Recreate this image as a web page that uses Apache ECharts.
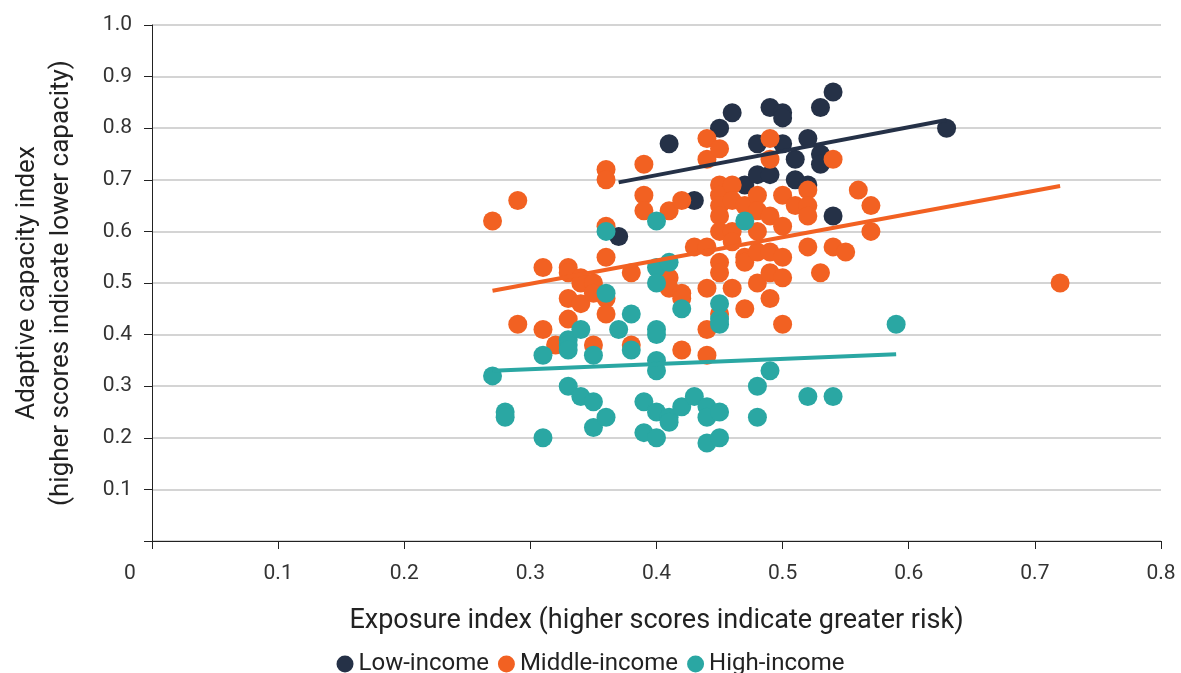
<!DOCTYPE html>
<html>
<head>
<meta charset="utf-8">
<script src="https://cdn.jsdelivr.net/npm/echarts@6/dist/echarts.min.js"></script>
<style>
  html, body { margin: 0; padding: 0; background: #fff; }
  #chart { width: 1181px; height: 673px; }
</style>
</head>
<body>
<div id="chart"></div>
<script>
var seriesNames = ['Low-income', 'Middle-income', 'High-income'];
var colors = ['#253147', '#f26122', '#2aa7a3'];

// [exposure, adaptive capacity]
var lowIncome = [
  [0.37, 0.59], [0.41, 0.77], [0.43, 0.66], [0.45, 0.80], [0.46, 0.83],
  [0.47, 0.69], [0.48, 0.77], [0.48, 0.71], [0.49, 0.84], [0.49, 0.71],
  [0.50, 0.83], [0.50, 0.82], [0.50, 0.77], [0.51, 0.74], [0.51, 0.70],
  [0.52, 0.78], [0.52, 0.69], [0.53, 0.84], [0.53, 0.75], [0.53, 0.73],
  [0.54, 0.87], [0.54, 0.63], [0.63, 0.80]
];
var middleIncome = [
  [0.27, 0.62], [0.29, 0.66], [0.29, 0.42], [0.31, 0.53], [0.31, 0.41],
  [0.32, 0.38], [0.33, 0.53], [0.33, 0.52], [0.33, 0.47], [0.33, 0.43],
  [0.34, 0.51], [0.34, 0.50], [0.34, 0.46], [0.35, 0.50], [0.35, 0.48],
  [0.35, 0.38], [0.36, 0.72], [0.36, 0.70], [0.36, 0.61], [0.36, 0.55],
  [0.36, 0.47], [0.36, 0.44], [0.38, 0.52], [0.38, 0.38], [0.39, 0.73],
  [0.39, 0.67], [0.39, 0.64], [0.41, 0.64], [0.41, 0.51], [0.41, 0.49],
  [0.42, 0.66], [0.42, 0.48], [0.42, 0.47], [0.42, 0.37], [0.43, 0.57],
  [0.44, 0.78], [0.44, 0.74], [0.44, 0.57], [0.44, 0.49], [0.44, 0.41],
  [0.44, 0.36], [0.45, 0.76], [0.45, 0.69], [0.45, 0.67], [0.45, 0.65],
  [0.45, 0.63], [0.45, 0.60], [0.45, 0.54], [0.45, 0.52], [0.45, 0.44],
  [0.46, 0.69], [0.46, 0.66], [0.46, 0.60], [0.46, 0.58], [0.46, 0.49],
  [0.47, 0.65], [0.47, 0.55], [0.47, 0.54], [0.47, 0.45], [0.48, 0.67],
  [0.48, 0.64], [0.48, 0.60], [0.48, 0.56], [0.48, 0.50], [0.49, 0.78],
  [0.49, 0.74], [0.49, 0.63], [0.49, 0.56], [0.49, 0.52], [0.49, 0.47],
  [0.50, 0.67], [0.50, 0.61], [0.50, 0.55], [0.50, 0.51], [0.50, 0.42],
  [0.51, 0.65], [0.52, 0.68], [0.52, 0.65], [0.52, 0.63], [0.52, 0.57],
  [0.53, 0.52], [0.54, 0.74], [0.54, 0.57], [0.55, 0.56], [0.56, 0.68],
  [0.57, 0.65], [0.57, 0.60], [0.72, 0.50]
];
var highIncome = [
  [0.27, 0.32], [0.28, 0.25], [0.28, 0.24], [0.31, 0.36], [0.31, 0.20],
  [0.33, 0.39], [0.33, 0.38], [0.33, 0.37], [0.33, 0.30], [0.34, 0.41],
  [0.34, 0.28], [0.35, 0.36], [0.35, 0.27], [0.35, 0.22], [0.36, 0.60],
  [0.36, 0.48], [0.36, 0.24], [0.37, 0.41], [0.38, 0.44], [0.38, 0.37],
  [0.39, 0.27], [0.39, 0.21], [0.40, 0.62], [0.40, 0.53], [0.40, 0.50],
  [0.40, 0.41], [0.40, 0.40], [0.40, 0.35], [0.40, 0.33], [0.40, 0.25],
  [0.40, 0.20], [0.41, 0.54], [0.41, 0.24], [0.41, 0.23], [0.42, 0.45],
  [0.42, 0.26], [0.43, 0.28], [0.44, 0.26], [0.44, 0.24], [0.44, 0.19],
  [0.45, 0.46], [0.45, 0.43], [0.45, 0.42], [0.45, 0.25], [0.45, 0.20],
  [0.47, 0.62], [0.48, 0.30], [0.48, 0.24], [0.49, 0.33], [0.52, 0.28],
  [0.54, 0.28], [0.59, 0.42]
];

// trend line end points
var lowTrend = [[0.37, 0.695], [0.63, 0.816]];
var middleTrend = [[0.27, 0.485], [0.72, 0.688]];
var highTrend = [[0.27, 0.330], [0.59, 0.362]];

var chart = echarts.init(document.getElementById('chart'));
var font = 'Roboto, "Liberation Sans", sans-serif';

function scatter(name, data, color) {
  return {
    name: name,
    type: 'scatter',
    symbolSize: 19,
    itemStyle: { color: color, opacity: 1 },
    data: data
  };
}
function trend(data, color) {
  return {
    type: 'line',
    data: data,
    symbol: 'none',
    silent: true,
    lineStyle: { color: color, width: 4 },
    z: 3
  };
}

option = {
  animation: false,
  textStyle: { fontFamily: font },
  grid: {
    left: 152,
    right: 20,
    top: 25,
    bottom: 132,
    containLabel: false,
    outerBoundsMode: 'none'
  },
  legend: {
    data: seriesNames,
    bottom: -8,
    left: 'center',
    icon: 'circle',
    itemWidth: 17,
    itemHeight: 17,
    itemGap: 9,
    textStyle: { fontSize: 24, color: '#222', fontFamily: font }
  },
  xAxis: {
    type: 'value',
    min: 0,
    max: 0.8,
    interval: 0.1,
    name: 'Exposure index (higher scores indicate greater risk)',
    nameLocation: 'middle',
    nameGap: 67,
    nameTextStyle: { fontSize: 27, color: '#222' },
    axisLine: { lineStyle: { color: '#222', width: 1 } },
    axisTick: { show: true, length: 8, lineStyle: { color: '#222' } },
    splitLine: { show: false },
    axisLabel: {
      margin: 22,
      fontSize: 21,
      color: '#333',
      formatter: function (v) {
        return v === 0 ? '{z|0}' : v.toFixed(1);
      },
      rich: { z: { fontSize: 21, color: '#333', padding: [0, 44, 0, 0] } }
    }
  },
  yAxis: {
    type: 'value',
    min: 0,
    max: 1,
    interval: 0.1,
    name: 'Adaptive capacity index\n(higher scores indicate lower capacity)',
    nameLocation: 'middle',
    nameGap: 74,
    nameTextStyle: { fontSize: 26, color: '#222', lineHeight: 34 },
    axisLine: { show: true, lineStyle: { color: '#222', width: 1 } },
    axisTick: { show: true, length: 8, lineStyle: { color: '#222' } },
    splitLine: { show: true, lineStyle: { color: '#c6c6c6', width: 1.5 } },
    axisLabel: {
      margin: 20,
      fontSize: 21,
      color: '#333',
      formatter: function (v) {
        return v === 0 ? '' : v.toFixed(1);
      }
    }
  },
  series: [
    scatter(seriesNames[0], lowIncome, colors[0]),
    scatter(seriesNames[1], middleIncome, colors[1]),
    scatter(seriesNames[2], highIncome, colors[2]),
    trend(lowTrend, colors[0]),
    trend(middleTrend, colors[1]),
    trend(highTrend, colors[2])
  ]
};

chart.setOption(option);
</script>
</body>
</html>
